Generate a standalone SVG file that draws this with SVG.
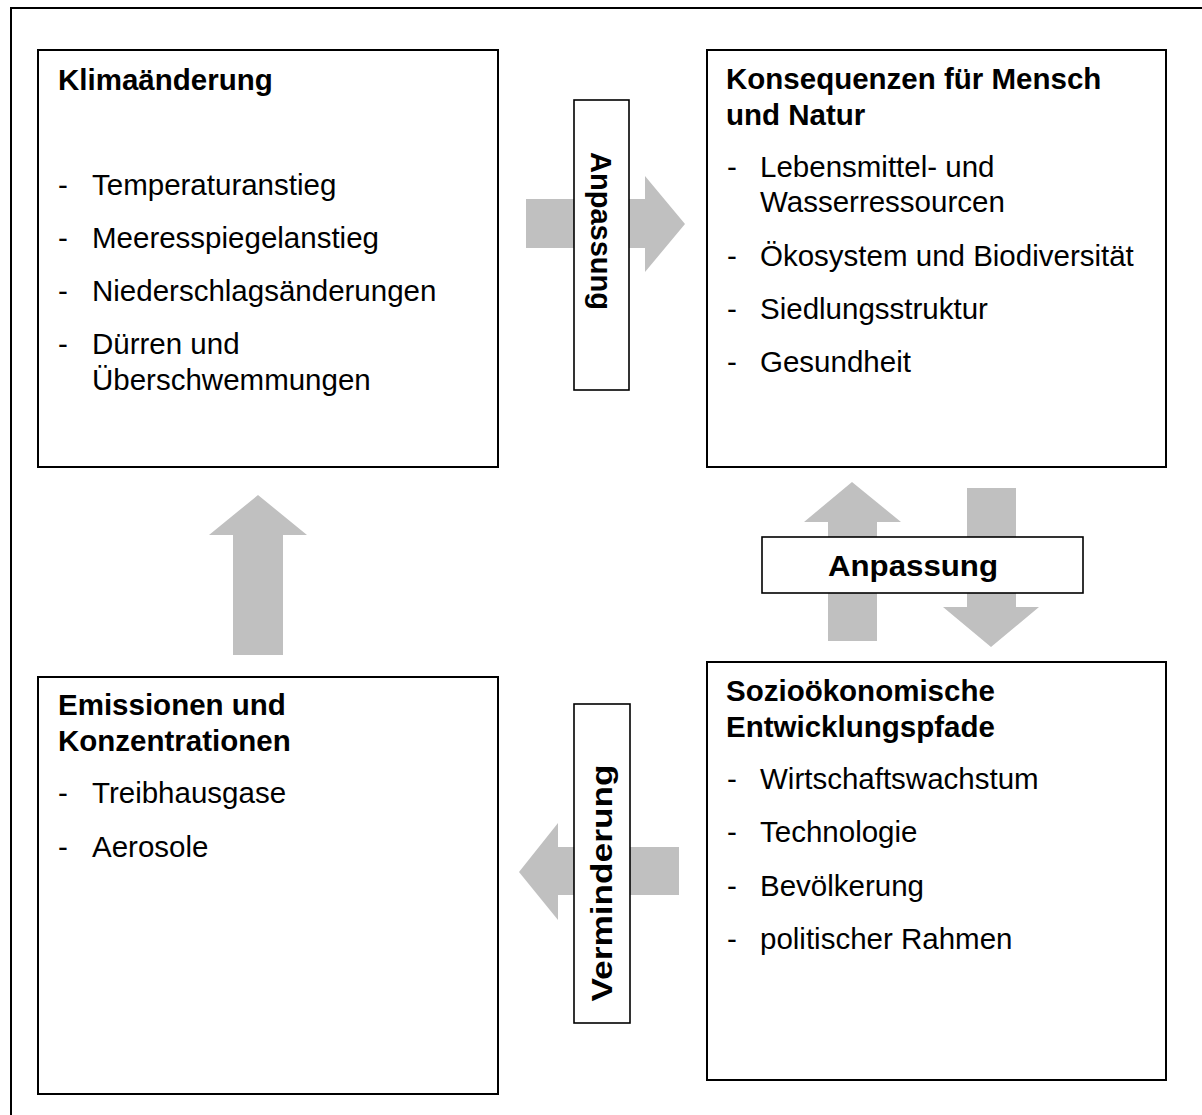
<svg xmlns="http://www.w3.org/2000/svg" width="1202" height="1115" viewBox="0 0 1202 1115">
<style>
.box{fill:#fff;stroke:#000;stroke-width:2}
.lbl{fill:#fff;stroke:#000;stroke-width:1.6}
.arr{fill:#c0c0c0;stroke:none}
text{font-family:"Liberation Sans",Arial,sans-serif;font-size:29.5px;fill:#000}
.b{font-weight:bold}
.l{font-weight:bold;font-size:30px;text-anchor:middle}
</style>
<rect width="1202" height="1115" fill="#fff"/>
<rect x="11" y="8" width="1210" height="1130" fill="none" stroke="#000" stroke-width="2"/>
<g id="connectors">
<polygon class="arr" points="526,199 645,199 645,176 685,224 645,272 645,248 526,248"/>
<polygon class="arr" points="258,495 307,535 283,535 283,655 233,655 233,535 209,535"/>
<polygon class="arr" points="852,482 901,522 877,522 877,641 828,641 828,522 804,522"/>
<polygon class="arr" points="967,488 1016,488 1016,607 1039,607 991,647 943,607 967,607"/>
<polygon class="arr" points="679,847 679,895 558,895 558,920 519,872 558,823 558,847"/>
</g>
<g id="label-anpassung-top">
<rect class="lbl" x="574" y="100" width="55" height="290"/>
<text class="l" transform="translate(591,231) rotate(90)" textLength="158" lengthAdjust="spacingAndGlyphs">Anpassung</text>
</g>
<g id="label-anpassung-mid">
<rect class="lbl" x="762" y="537" width="321" height="56"/>
<text class="l" x="913" y="576" textLength="170" lengthAdjust="spacingAndGlyphs">Anpassung</text>
</g>
<g id="label-verminderung">
<rect class="lbl" x="574" y="704" width="56" height="319"/>
<text class="l" transform="translate(612,883) rotate(-90)" textLength="237" lengthAdjust="spacingAndGlyphs">Verminderung</text>
</g>
<g id="klimaaenderung">
<rect class="box" x="38" y="50" width="460" height="417"/>
<text class="b" x="58" y="90">Klimaänderung</text>
<text x="58" y="195">-</text><text x="92" y="195">Temperaturanstieg</text>
<text x="58" y="248">-</text><text x="92" y="248">Meeresspiegelanstieg</text>
<text x="58" y="301">-</text><text x="92" y="301">Niederschlagsänderungen</text>
<text x="58" y="354">-</text><text x="92" y="354">Dürren und</text>
<text x="92" y="390">Überschwemmungen</text>
</g>
<g id="konsequenzen">
<rect class="box" x="707" y="50" width="459" height="417"/>
<text class="b" x="726" y="89">Konsequenzen für Mensch</text>
<text class="b" x="726" y="125">und Natur</text>
<text x="727" y="177">-</text><text x="760" y="177">Lebensmittel- und</text>
<text x="760" y="212">Wasserressourcen</text>
<text x="727" y="266">-</text><text x="760" y="266">Ökosystem und Biodiversität</text>
<text x="727" y="319">-</text><text x="760" y="319">Siedlungsstruktur</text>
<text x="727" y="372">-</text><text x="760" y="372">Gesundheit</text>
</g>
<g id="emissionen">
<rect class="box" x="38" y="677" width="460" height="417"/>
<text class="b" x="58" y="715">Emissionen und</text>
<text class="b" x="58" y="751">Konzentrationen</text>
<text x="58" y="803">-</text><text x="92" y="803">Treibhausgase</text>
<text x="58" y="857">-</text><text x="92" y="857">Aerosole</text>
</g>
<g id="sozio">
<rect class="box" x="707" y="662" width="459" height="418"/>
<text class="b" x="726" y="701">Sozioökonomische</text>
<text class="b" x="726" y="737">Entwicklungspfade</text>
<text x="727" y="789">-</text><text x="760" y="789">Wirtschaftswachstum</text>
<text x="727" y="842">-</text><text x="760" y="842">Technologie</text>
<text x="727" y="896">-</text><text x="760" y="896">Bevölkerung</text>
<text x="727" y="949">-</text><text x="760" y="949">politischer Rahmen</text>
</g>
</svg>
